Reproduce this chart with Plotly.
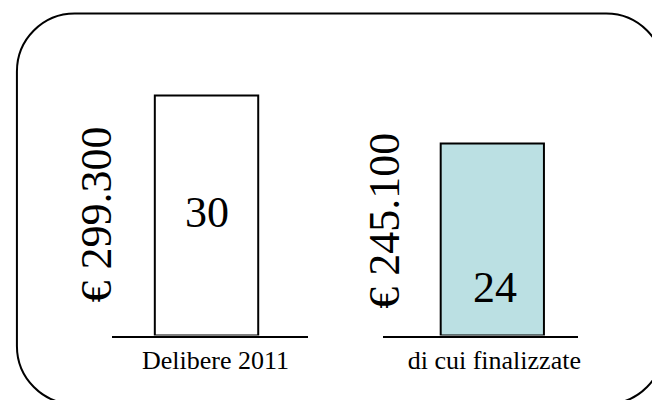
import plotly.graph_objects as go

# ---- data ----
categories = ["Delibere 2011", "di cui finalizzate"]
counts = [30, 24]
amounts = [299300, 245100]
fill_colors = ["#FFFFFF", "#BBE0E3"]

W, H = 652, 400
FONT = "'Liberation Serif', 'Times New Roman', serif"


def px_x(x):
    return x / W


def px_y(y):
    return 1 - y / H


def fmt_eur(v):
    return "€ " + f"{v:,}".replace(",", ".")


def rounded_rect_path(x0, y0, x1, y1, r):
    k = 0.5523 * r
    pts = []
    pts.append(f"M {px_x(x0 + r)},{px_y(y0)}")
    pts.append(f"L {px_x(x1 - r)},{px_y(y0)}")
    pts.append(f"C {px_x(x1 - r + k)},{px_y(y0)} {px_x(x1)},{px_y(y0 + r - k)} {px_x(x1)},{px_y(y0 + r)}")
    pts.append(f"L {px_x(x1)},{px_y(y1 - r)}")
    pts.append(f"C {px_x(x1)},{px_y(y1 - r + k)} {px_x(x1 - r + k)},{px_y(y1)} {px_x(x1 - r)},{px_y(y1)}")
    pts.append(f"L {px_x(x0 + r)},{px_y(y1)}")
    pts.append(f"C {px_x(x0 + r - k)},{px_y(y1)} {px_x(x0)},{px_y(y1 - r + k)} {px_x(x0)},{px_y(y1 - r)}")
    pts.append(f"L {px_x(x0)},{px_y(y0 + r)}")
    pts.append(f"C {px_x(x0)},{px_y(y0 + r - k)} {px_x(x0 + r - k)},{px_y(y0)} {px_x(x0 + r)},{px_y(y0)}")
    pts.append("Z")
    return " ".join(pts)


fig = go.Figure()

axes = ["x", "x2"]
for i, cat in enumerate(categories):
    fig.add_trace(go.Bar(
        x=[cat], y=[counts[i]],
        xaxis=axes[i], yaxis="y",
        width=0.53,
        marker=dict(color=fill_colors[i], line=dict(color="black", width=2)),
        hoverinfo="skip",
    ))

# rotated amount labels
label_shift = [-111, -108]
label_y = [215, 220.5]
for i, cat in enumerate(categories):
    fig.add_annotation(
        x=cat, xref=axes[i], y=px_y(label_y[i]), yref="paper",
        text=fmt_eur(amounts[i]), textangle=-90, showarrow=False,
        xshift=label_shift[i], xanchor="center", yanchor="middle",
        font=dict(family=FONT, size=44, color="black"),
    )

# count labels
count_y = [212, 287]
count_shift = [0.5, 2.5]
for i, cat in enumerate(categories):
    fig.add_annotation(
        x=cat, xref=axes[i], y=px_y(count_y[i]), yref="paper",
        text=str(counts[i]), showarrow=False, xshift=count_shift[i],
        xanchor="center", yanchor="middle",
        font=dict(family=FONT, size=44, color="black"),
    )

# rounded frame
fig.add_shape(type="path", xref="paper", yref="paper",
              path=rounded_rect_path(17, 13.5, 667, 404, 58),
              line=dict(color="black", width=2), fillcolor="rgba(0,0,0,0)", layer="above")

bottom_px = 335.5
px_per_unit = (bottom_px - 95.5) / counts[0]

axis_common = dict(
    showline=True, linecolor="black", linewidth=2,
    showgrid=False, zeroline=False, ticks="",
    tickfont=dict(family=FONT, size=26, color="black"),
    type="category", fixedrange=True,
)

fig.update_layout(
    width=W, height=H,
    margin=dict(l=0, r=0, t=0, b=0),
    paper_bgcolor="white", plot_bgcolor="rgba(0,0,0,0)",
    showlegend=False,
    font=dict(family=FONT, color="black"),
    xaxis=dict(domain=[px_x(113), px_x(309)], range=[-0.482, 0.518], anchor="y",
               ticklabelshift=9, **axis_common),
    xaxis2=dict(domain=[px_x(385), px_x(580.7)], range=[-0.56, 0.44], anchor="y",
                ticklabelshift=2, **axis_common),
    yaxis=dict(domain=[px_y(bottom_px), 1], range=[0, bottom_px / px_per_unit],
               visible=False, fixedrange=True),
)

fig.write_html("out.html", config={"displayModeBar": False},
               post_script="document.body.style.margin='0';document.body.style.overflow='hidden';")
